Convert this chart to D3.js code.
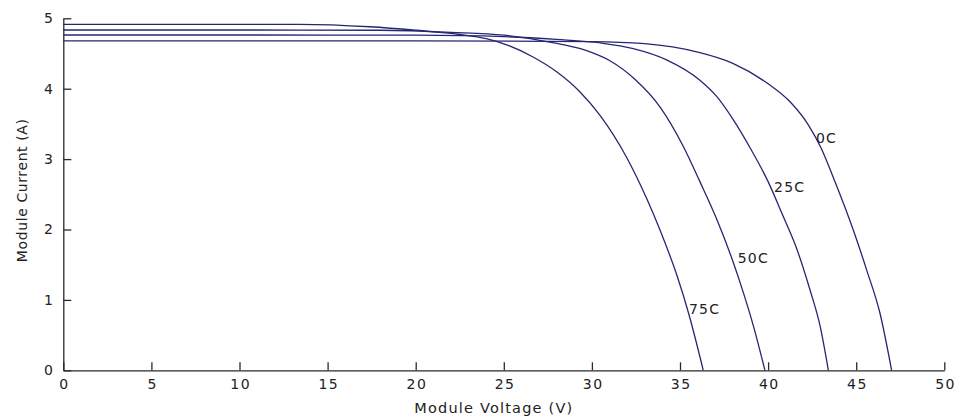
<!DOCTYPE html>
<html>
<head>
<meta charset="utf-8">
<script src="https://cdn.jsdelivr.net/npm/d3@7"></script>
<style>
  html, body { margin: 0; padding: 0; background: #ffffff; }
  svg { display: block; }
  .tick text { font-family: "DejaVu Sans", sans-serif; font-size: 14px; letter-spacing: 1.5px; fill: #222; }
</style>
</head>
<body>
<svg id="chart" width="958" height="419"></svg>
<script>
// ---- data ----
const seriesNames = ["0C", "25C", "50C", "75C"];

// Module Voltage (V) / Module Current (A) pairs for each curve
const volt0C  = [0, 10, 20, 30, 33, 36, 38, 40, 41.3, 42.3, 43.0, 43.7, 44.84, 45.6, 46.35, 47.01];
const curr0C  = [4.68, 4.68, 4.68, 4.67, 4.64, 4.52, 4.36, 4.07, 3.80, 3.48, 3.16, 2.74, 1.99, 1.42, 0.81, 0];

const volt25C = [0, 10, 20, 25, 28, 30.5, 32.35, 34.24, 36.13, 37.08, 38.02, 39.0, 40.0, 40.8, 41.62, 42.38, 42.95, 43.42];
const curr25C = [4.763, 4.763, 4.76, 4.74, 4.70, 4.65, 4.57, 4.41, 4.12, 3.89, 3.56, 3.15, 2.68, 2.22, 1.73, 1.14, 0.63, 0];

const volt50C = [0, 10, 18, 22, 25, 27.43, 29.7, 31.0, 32.5, 33.87, 35.19, 36.13, 37.08, 37.9, 38.6, 39.2, 39.82];
const curr50C = [4.834, 4.834, 4.83, 4.80, 4.76, 4.67, 4.54, 4.40, 4.12, 3.74, 3.18, 2.68, 2.15, 1.62, 1.10, 0.60, 0];

const volt75C = [0, 10, 13.4, 17.4, 20, 22.5, 24, 25.2, 26.66, 28.0, 29.3, 30.46, 31.98, 33.11, 33.87, 34.81, 35.5, 36.32];
const curr75C = [4.915, 4.915, 4.915, 4.88, 4.83, 4.77, 4.71, 4.62, 4.45, 4.24, 3.96, 3.62, 3.02, 2.44, 1.99, 1.36, 0.80, 0];

// curve labels: left edge voltage, vertical-middle current
const labelText = ["0C", "25C", "50C", "75C"];
const labelVolt = [42.66, 40.28, 38.22, 35.45];
const labelCurr = [3.30, 2.61, 1.60, 0.87];

const xTicks = [0, 5, 10, 15, 20, 25, 30, 35, 40, 45, 50];
const yTicks = [0, 1, 2, 3, 4, 5];
const xTitle = "Module Voltage (V)";
const yTitle = "Module Current (A)";

// ---- drawing ----
const svg = d3.select("#chart");
const x = d3.scaleLinear().domain([0, 50]).range([63.3, 944.3]);
const y = d3.scaleLinear().domain([0, 5]).range([370.3, 18.3]);

const series = [
  { v: volt0C,  c: curr0C },
  { v: volt25C, c: curr25C },
  { v: volt50C, c: curr50C },
  { v: volt75C, c: curr75C }
];

const line = d3.line()
  .x(d => x(d[0]))
  .y(d => y(d[1]))
  .curve(d3.curveMonotoneX);

svg.append("g").selectAll("path")
  .data(series)
  .join("path")
  .attr("d", s => line(s.v.map((v, i) => [v, s.c[i]])))
  .attr("fill", "none")
  .attr("stroke", "#262673")
  .attr("stroke-width", 1.3);

// axes
const fmt = d3.format("d");
const xAxis = d3.axisBottom(x).tickValues(xTicks).tickFormat(fmt).tickSizeInner(-8).tickSizeOuter(0).tickPadding(9);
const yAxis = d3.axisLeft(y).tickValues(yTicks).tickFormat(fmt).tickSizeInner(-8).tickSizeOuter(0).tickPadding(9);

const gx = svg.append("g").attr("transform", `translate(0,${y(0)})`).call(xAxis);
const gy = svg.append("g").attr("transform", `translate(${x(0)},0)`).call(yAxis);
[gx, gy].forEach(g => {
  g.select(".domain").attr("stroke", "#2a2a2a").attr("stroke-width", 1.3);
  g.selectAll(".tick line").attr("stroke", "#2a2a2a").attr("stroke-width", 1.3);
});
gx.selectAll(".tick text").attr("dx", "0.75px");

// curve labels
svg.append("g").selectAll("text")
  .data(labelText)
  .join("text")
  .attr("x", (d, i) => x(labelVolt[i]) + 1)
  .attr("y", (d, i) => y(labelCurr[i]))
  .attr("dy", "0.36em")
  .attr("font-family", "DejaVu Sans, sans-serif")
  .attr("font-size", 14)
  .attr("letter-spacing", "1.2px")
  .attr("fill", "#222")
  .text(d => d);

// axis titles
svg.append("text")
  .attr("x", (x(0) + x(50)) / 2 - 10)
  .attr("y", 413)
  .attr("text-anchor", "middle")
  .attr("font-family", "DejaVu Sans, sans-serif")
  .attr("font-size", 14.5)
  .attr("letter-spacing", "1.2px")
  .attr("fill", "#222")
  .text(xTitle);

svg.append("text")
  .attr("transform", `translate(27,${(y(0) + y(5)) / 2 - 4}) rotate(-90)`)
  .attr("text-anchor", "middle")
  .attr("font-family", "DejaVu Sans, sans-serif")
  .attr("font-size", 14)
  .attr("letter-spacing", "0.6px")
  .attr("fill", "#222")
  .text(yTitle);
</script>
</body>
</html>
